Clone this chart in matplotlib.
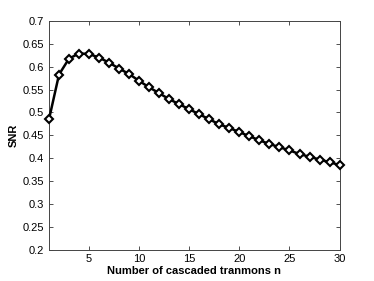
import matplotlib
matplotlib.use("Agg")
import matplotlib.pyplot as plt
import numpy as np

plt.rcParams["font.family"] = ["Liberation Sans", "DejaVu Sans"]

n = np.arange(1, 31)
snr = [0.485, 0.583, 0.618, 0.629, 0.628, 0.620, 0.609, 0.596, 0.584, 0.569,
       0.555, 0.542, 0.529, 0.518, 0.507, 0.496, 0.485, 0.474, 0.466, 0.457,
       0.448, 0.439, 0.431, 0.424, 0.417, 0.409, 0.403, 0.397, 0.391, 0.385]
xticks = [5, 10, 15, 20, 25, 30]
yticks = [0.2, 0.25, 0.3, 0.35, 0.4, 0.45, 0.5, 0.55, 0.6, 0.65, 0.7]

fig = plt.figure(figsize=(3.74, 2.81), dpi=100)
ax = fig.add_axes([0.131, 0.112, 0.777, 0.813])

ax.plot(n, snr, color="black", lw=1.8, marker="D", markersize=4.5,
        markerfacecolor="white", markeredgecolor="black", markeredgewidth=1.5,
        clip_on=False, zorder=5)

ax.set_xlim(1, 30)
ax.set_ylim(0.2, 0.7)
ax.set_xticks(xticks)
ax.set_yticks(yticks)
ax.set_yticklabels([f"{v:g}" for v in yticks])
ax.tick_params(direction="in", top=True, right=True, labelsize=8,
               length=3, width=0.6, colors="#333333", labelcolor="black")
for s in ax.spines.values():
    s.set_linewidth(0.7)
    s.set_color("#444444")

ax.set_xlabel("Number of cascaded tranmons n", fontsize=8, fontweight="bold", labelpad=1)
ax.set_ylabel("SNR", fontsize=8, fontweight="bold", labelpad=3)

fig.savefig("out.png", dpi=100, facecolor="white")
